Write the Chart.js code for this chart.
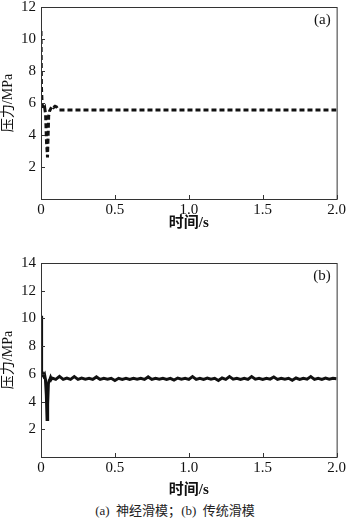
<!DOCTYPE html>
<html>
<head>
<meta charset="utf-8">
<script src="https://cdn.jsdelivr.net/npm/chart.js@4.4.0/dist/chart.umd.min.js"></script>
<style>
  body { margin: 0; background: #fff; }
  .wrap { position: absolute; left: 0; width: 350px; }
  #caption { position: absolute; left: 0; width: 350px; top: 500px; text-align: center;
    font: 13px "Times New Roman", "Liberation Serif", "DejaVu Serif", serif; color: #222; }
  #caption .cjk { font-family: "Noto Sans CJK SC"; }
</style>
</head>
<body>
<div class="wrap" style="top:-4px;height:236px"><canvas id="chartA"></canvas></div>
<div class="wrap" style="top:240px;height:259px"><canvas id="chartB"></canvas></div>
<div id="caption">(a)&nbsp; <span class="cjk">神经滑模；</span>(b)&nbsp; <span class="cjk">传统滑模</span></div>
<script>
// (a) neural sliding mode - pressure vs time
const timeA = [0, 0.003, 0.008, 0.012, 0.018, 0.025, 0.031, 0.037, 0.044, 0.048, 0.052, 0.058, 0.066, 0.075, 0.085, 0.095, 0.105, 0.115, 0.125, 2.0];
const pressA = [10.5, 7.0, 5.9, 5.8, 5.6, 5.7, 5.3, 3.6, 2.6, 3.9, 5.2, 5.5, 5.65, 5.8, 5.72, 5.8, 5.75, 5.62, 5.57, 5.57];

// (b) conventional sliding mode
const timeB = [0, 0.002, 0.006, 0.012, 0.018, 0.024, 0.03, 0.036, 0.041, 0.045, 0.05, 0.055, 0.06, 0.065, 0.07,
  0.075, 0.1, 0.125, 0.15, 0.175, 0.2, 0.225, 0.25, 0.275, 0.3,
  0.325, 0.35, 0.375, 0.4, 0.425, 0.45, 0.475, 0.5, 0.525, 0.55,
  0.575, 0.6, 0.625, 0.65, 0.675, 0.7, 0.725, 0.75, 0.775, 0.8,
  0.825, 0.85, 0.875, 0.9, 0.925, 0.95, 0.975, 1.0, 1.025, 1.05,
  1.075, 1.1, 1.125, 1.15, 1.175, 1.2, 1.225, 1.25, 1.275, 1.3,
  1.325, 1.35, 1.375, 1.4, 1.425, 1.45, 1.475, 1.5, 1.525, 1.55,
  1.575, 1.6, 1.625, 1.65, 1.675, 1.7, 1.725, 1.75, 1.775, 1.8,
  1.825, 1.85, 1.875, 1.9, 1.925, 1.95, 1.975, 2.0];
const pressB = [10.2, 6.2, 5.9, 6.0, 5.85, 5.95, 5.6, 4.5, 2.7, 3.8, 5.3, 5.5, 5.6, 5.75, 5.62,
  5.7, 5.6, 5.82, 5.6, 5.7, 5.6, 5.8, 5.6, 5.7, 5.62,
  5.68, 5.6, 5.78, 5.6, 5.68, 5.62, 5.68, 5.52, 5.68, 5.6,
  5.68, 5.6, 5.68, 5.62, 5.68, 5.6, 5.78, 5.6, 5.68, 5.62,
  5.68, 5.6, 5.68, 5.55, 5.7, 5.62, 5.68, 5.6, 5.8, 5.6,
  5.68, 5.6, 5.7, 5.62, 5.68, 5.52, 5.7, 5.6, 5.8, 5.62,
  5.68, 5.6, 5.68, 5.6, 5.8, 5.62, 5.68, 5.6, 5.68, 5.62,
  5.78, 5.6, 5.68, 5.62, 5.68, 5.54, 5.7, 5.6, 5.68, 5.62,
  5.8, 5.6, 5.68, 5.6, 5.7, 5.62, 5.68, 5.64];

const xTicks = [0, 0.5, 1.0, 1.5, 2.0];
const FONT = '"Times New Roman", "Liberation Serif", "DejaVu Serif", serif, "Noto Sans CJK SC"';

// frame + inward tick marks
const framePlugin = {
  id: 'frame',
  afterDraw(chart, args, opts) {
    const { ctx, chartArea: a, scales } = chart;
    ctx.save();
    ctx.strokeStyle = '#333';
    ctx.lineWidth = 1;
    ctx.strokeRect(a.left + 0.5, a.top + 0.5, a.right - a.left, a.bottom - a.top);
    ctx.beginPath();
    scales.x.ticks.forEach(t => {
      const px = Math.round(scales.x.getPixelForValue(t.value)) + 0.5;
      ctx.moveTo(px, a.bottom);
      ctx.lineTo(px, a.bottom - 4);
    });
    scales.y.ticks.forEach(t => {
      const py = Math.round(scales.y.getPixelForValue(t.value)) + 0.5;
      ctx.moveTo(a.left, py);
      ctx.lineTo(a.left + 4, py);
    });
    ctx.stroke();
    ctx.fillStyle = '#111';
    ctx.font = '15px ' + FONT;
    ctx.textAlign = 'right';
    ctx.textBaseline = 'middle';
    ctx.fillText(opts.tag, a.right - 6, a.top + 13);
    ctx.restore();
  }
};

function makeChart(id, times, values, yMax, padTop, xHeight, dash, width, tag) {
  const pts = times.map((t, i) => ({ x: t, y: values[i] }));
  return new Chart(document.getElementById(id), {
    type: 'line',
    data: {
      datasets: [{
        data: pts,
        borderColor: '#111',
        borderWidth: width,
        borderDash: dash,
        pointRadius: 0,
        tension: 0,
        fill: false
      }]
    },
    options: {
      responsive: true,
      maintainAspectRatio: false,
      animation: false,
      layout: { padding: { top: padTop, right: 10, left: 0, bottom: 0 } },
      plugins: { legend: { display: false }, tooltip: { enabled: false }, frame: { tag: tag } },
      scales: {
        x: {
          type: 'linear', min: 0, max: 2,
          afterBuildTicks: s => { s.ticks = xTicks.map(v => ({ value: v })); },
          afterFit: s => { s.height = xHeight; },
          grid: { display: false, drawTicks: false },
          border: { display: false },
          ticks: {
            padding: 4, color: '#111', font: { family: FONT, size: 15, lineHeight: 1 },
            maxRotation: 0,
            callback: v => v === 0 ? '0' : v.toFixed(1)
          },
          title: { display: true, text: '时间/s', color: '#111', padding: 0,
            font: { family: FONT, size: 15, weight: 'bold', lineHeight: 1.2 } }
        },
        y: {
          min: 0, max: yMax,
          afterFit: s => { s.width = 41; },
          grid: { display: false, drawTicks: false },
          border: { display: false },
          ticks: {
            stepSize: 2, padding: 5, color: '#111', font: { family: FONT, size: 15, lineHeight: 0.8 },
            callback: v => v === 0 ? '' : String(v)
          },
          title: { display: true, text: '压力/MPa', color: '#111', padding: 0,
            font: { family: FONT, size: 14, lineHeight: 1.2 } }
        }
      }
    },
    plugins: [framePlugin]
  });
}

makeChart('chartA', timeA, pressA, 12, 10, 33, [5, 3], 3, '(a)');
makeChart('chartB', timeB, pressB, 14, 23, 42, [], 3, '(b)');
</script>
</body>
</html>
